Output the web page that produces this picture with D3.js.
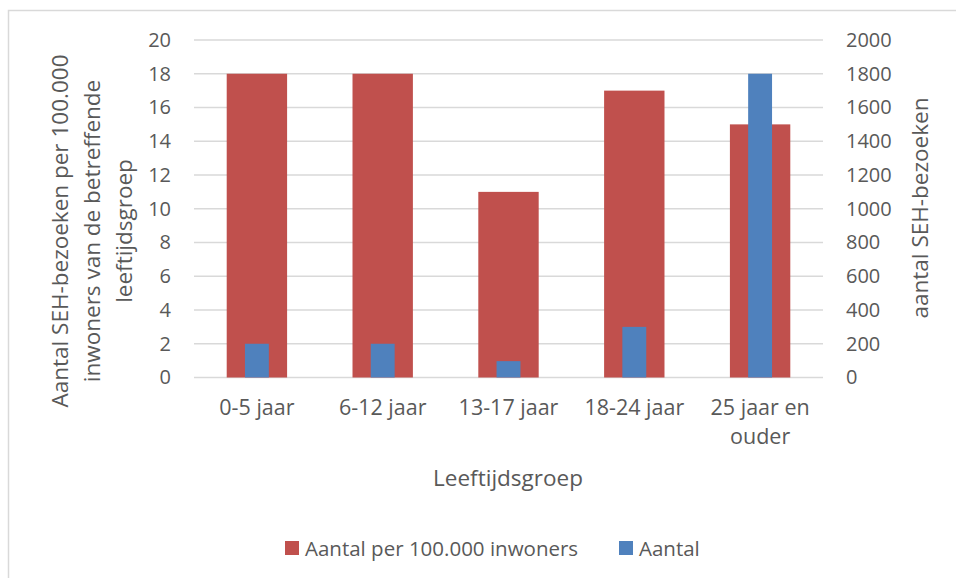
<!DOCTYPE html>
<html>
<head>
<meta charset="utf-8">
<script src="https://cdn.jsdelivr.net/npm/d3@7"></script>
<style>
  body { margin: 0; background: #fff; }
  text { font-family: "Open Sans", sans-serif; fill: #595959; }
</style>
</head>
<body>
<svg id="chart" width="956" height="578"></svg>
<script>
// Chart data.
var categories = [['0-5 jaar'], ['6-12 jaar'], ['13-17 jaar'], ['18-24 jaar'], ['25 jaar en', 'ouder']];
var perHundredThousand = [18, 18, 11, 17, 15];
var counts = [200, 200, 97, 300, 1800];
var leftTicks = [0, 2, 4, 6, 8, 10, 12, 14, 16, 18, 20];
var rightTicks = [0, 200, 400, 600, 800, 1000, 1200, 1400, 1600, 1800, 2000];
var seriesNames = ['Aantal per 100.000 inwoners', 'Aantal'];
var colours = ['#C0504D', '#4F81BD'];

// Plot area.
var plot = { left: 194, right: 823, top: 40, bottom: 377.5 };

var svg = d3.select('#chart');

// Chart border (right and bottom fall off the picture).
svg.append('rect')
   .attr('x', 8.5).attr('y', 10.5)
   .attr('width', 960).attr('height', 580)
   .attr('fill', 'none')
   .attr('stroke', '#d9d9d9')
   .attr('stroke-width', 1.5);

var x = d3.scaleBand()
          .domain(d3.range(categories.length))
          .range([plot.left, plot.right]);

var yLeft = d3.scaleLinear().domain([0, 20]).range([plot.bottom, plot.top]);
var yRight = d3.scaleLinear().domain([0, 2000]).range([plot.bottom, plot.top]);

// Gridlines.
svg.append('g')
   .selectAll('line')
   .data(leftTicks)
   .enter()
   .append('line')
   .attr('x1', plot.left).attr('x2', plot.right)
   .attr('y1', function(d) { return yLeft(d); })
   .attr('y2', function(d) { return yLeft(d); })
   .attr('stroke', '#d9d9d9')
   .attr('stroke-width', 1.5);

// Red bars (left axis).
var redWidth = x.bandwidth() * 0.48;
svg.append('g')
   .selectAll('rect')
   .data(perHundredThousand)
   .enter()
   .append('rect')
   .attr('x', function(d, i) { return x(i) + x.bandwidth() / 2 - redWidth / 2; })
   .attr('y', function(d) { return yLeft(d); })
   .attr('width', redWidth)
   .attr('height', function(d) { return yLeft(0) - yLeft(d); })
   .attr('fill', colours[0]);

// Blue bars (right axis).
var blueWidth = x.bandwidth() * 0.19;
svg.append('g')
   .selectAll('rect')
   .data(counts)
   .enter()
   .append('rect')
   .attr('x', function(d, i) { return x(i) + x.bandwidth() / 2 - blueWidth / 2; })
   .attr('y', function(d) { return yRight(d); })
   .attr('width', blueWidth)
   .attr('height', function(d) { return yRight(0) - yRight(d); })
   .attr('fill', colours[1]);

// Left axis.
var leftAxis = svg.append('g')
   .attr('transform', 'translate(' + (plot.left - 23) + ',0)')
   .call(d3.axisLeft(yLeft).tickValues(leftTicks).tickSize(0).tickPadding(0));
leftAxis.select('.domain').remove();
leftAxis.selectAll('text').style('font-size', '20px').style('fill', '#595959');

// Right axis.
var rightAxis = svg.append('g')
   .attr('transform', 'translate(' + (plot.right + 23) + ',0)')
   .call(d3.axisRight(yRight).tickValues(rightTicks).tickFormat(d3.format('d')).tickSize(0).tickPadding(0));
rightAxis.select('.domain').remove();
rightAxis.selectAll('text').style('font-size', '20px').style('fill', '#595959');

// Category labels.
var catLabels = svg.append('g')
   .selectAll('text')
   .data(categories)
   .enter()
   .append('text')
   .attr('text-anchor', 'middle')
   .style('font-size', '21.5px')
   .attr('transform', function(d, i) { return 'translate(' + (x(i) + x.bandwidth() / 2) + ',415)'; });
catLabels.selectAll('tspan')
   .data(function(d) { return d; })
   .enter()
   .append('tspan')
   .attr('x', 0)
   .attr('y', function(d, i) { return i * 29; })
   .text(function(d) { return d; });

// X axis title.
svg.append('text')
   .attr('x', 508).attr('y', 486)
   .attr('text-anchor', 'middle')
   .style('font-size', '22.5px')
   .text('Leeftijdsgroep');

// Left axis title.
var leftTitle = ['Aantal SEH-bezoeken per 100.000', 'inwoners van de betreffende', 'leeftijdsgroep'];
svg.append('text')
   .attr('transform', 'translate(68,231) rotate(-90)')
   .attr('text-anchor', 'middle')
   .style('font-size', '22.5px')
   .selectAll('tspan')
   .data(leftTitle)
   .enter()
   .append('tspan')
   .attr('x', 0)
   .attr('y', function(d, i) { return i * 32; })
   .text(function(d) { return d; });

// Right axis title.
svg.append('text')
   .attr('transform', 'translate(928,208) rotate(-90)')
   .attr('text-anchor', 'middle')
   .style('font-size', '22.5px')
   .text('aantal SEH-bezoeken');

// Legend.
var legendX = [285, 619];
var legend = svg.append('g')
   .selectAll('g')
   .data(seriesNames)
   .enter()
   .append('g')
   .attr('transform', function(d, i) { return 'translate(' + legendX[i] + ',541)'; });
legend.append('rect')
   .attr('width', 14).attr('height', 14)
   .attr('fill', function(d, i) { return colours[i]; });
legend.append('text')
   .attr('x', 20).attr('y', 14.5)
   .style('font-size', '20.5px')
   .text(function(d) { return d; });
</script>
</body>
</html>
